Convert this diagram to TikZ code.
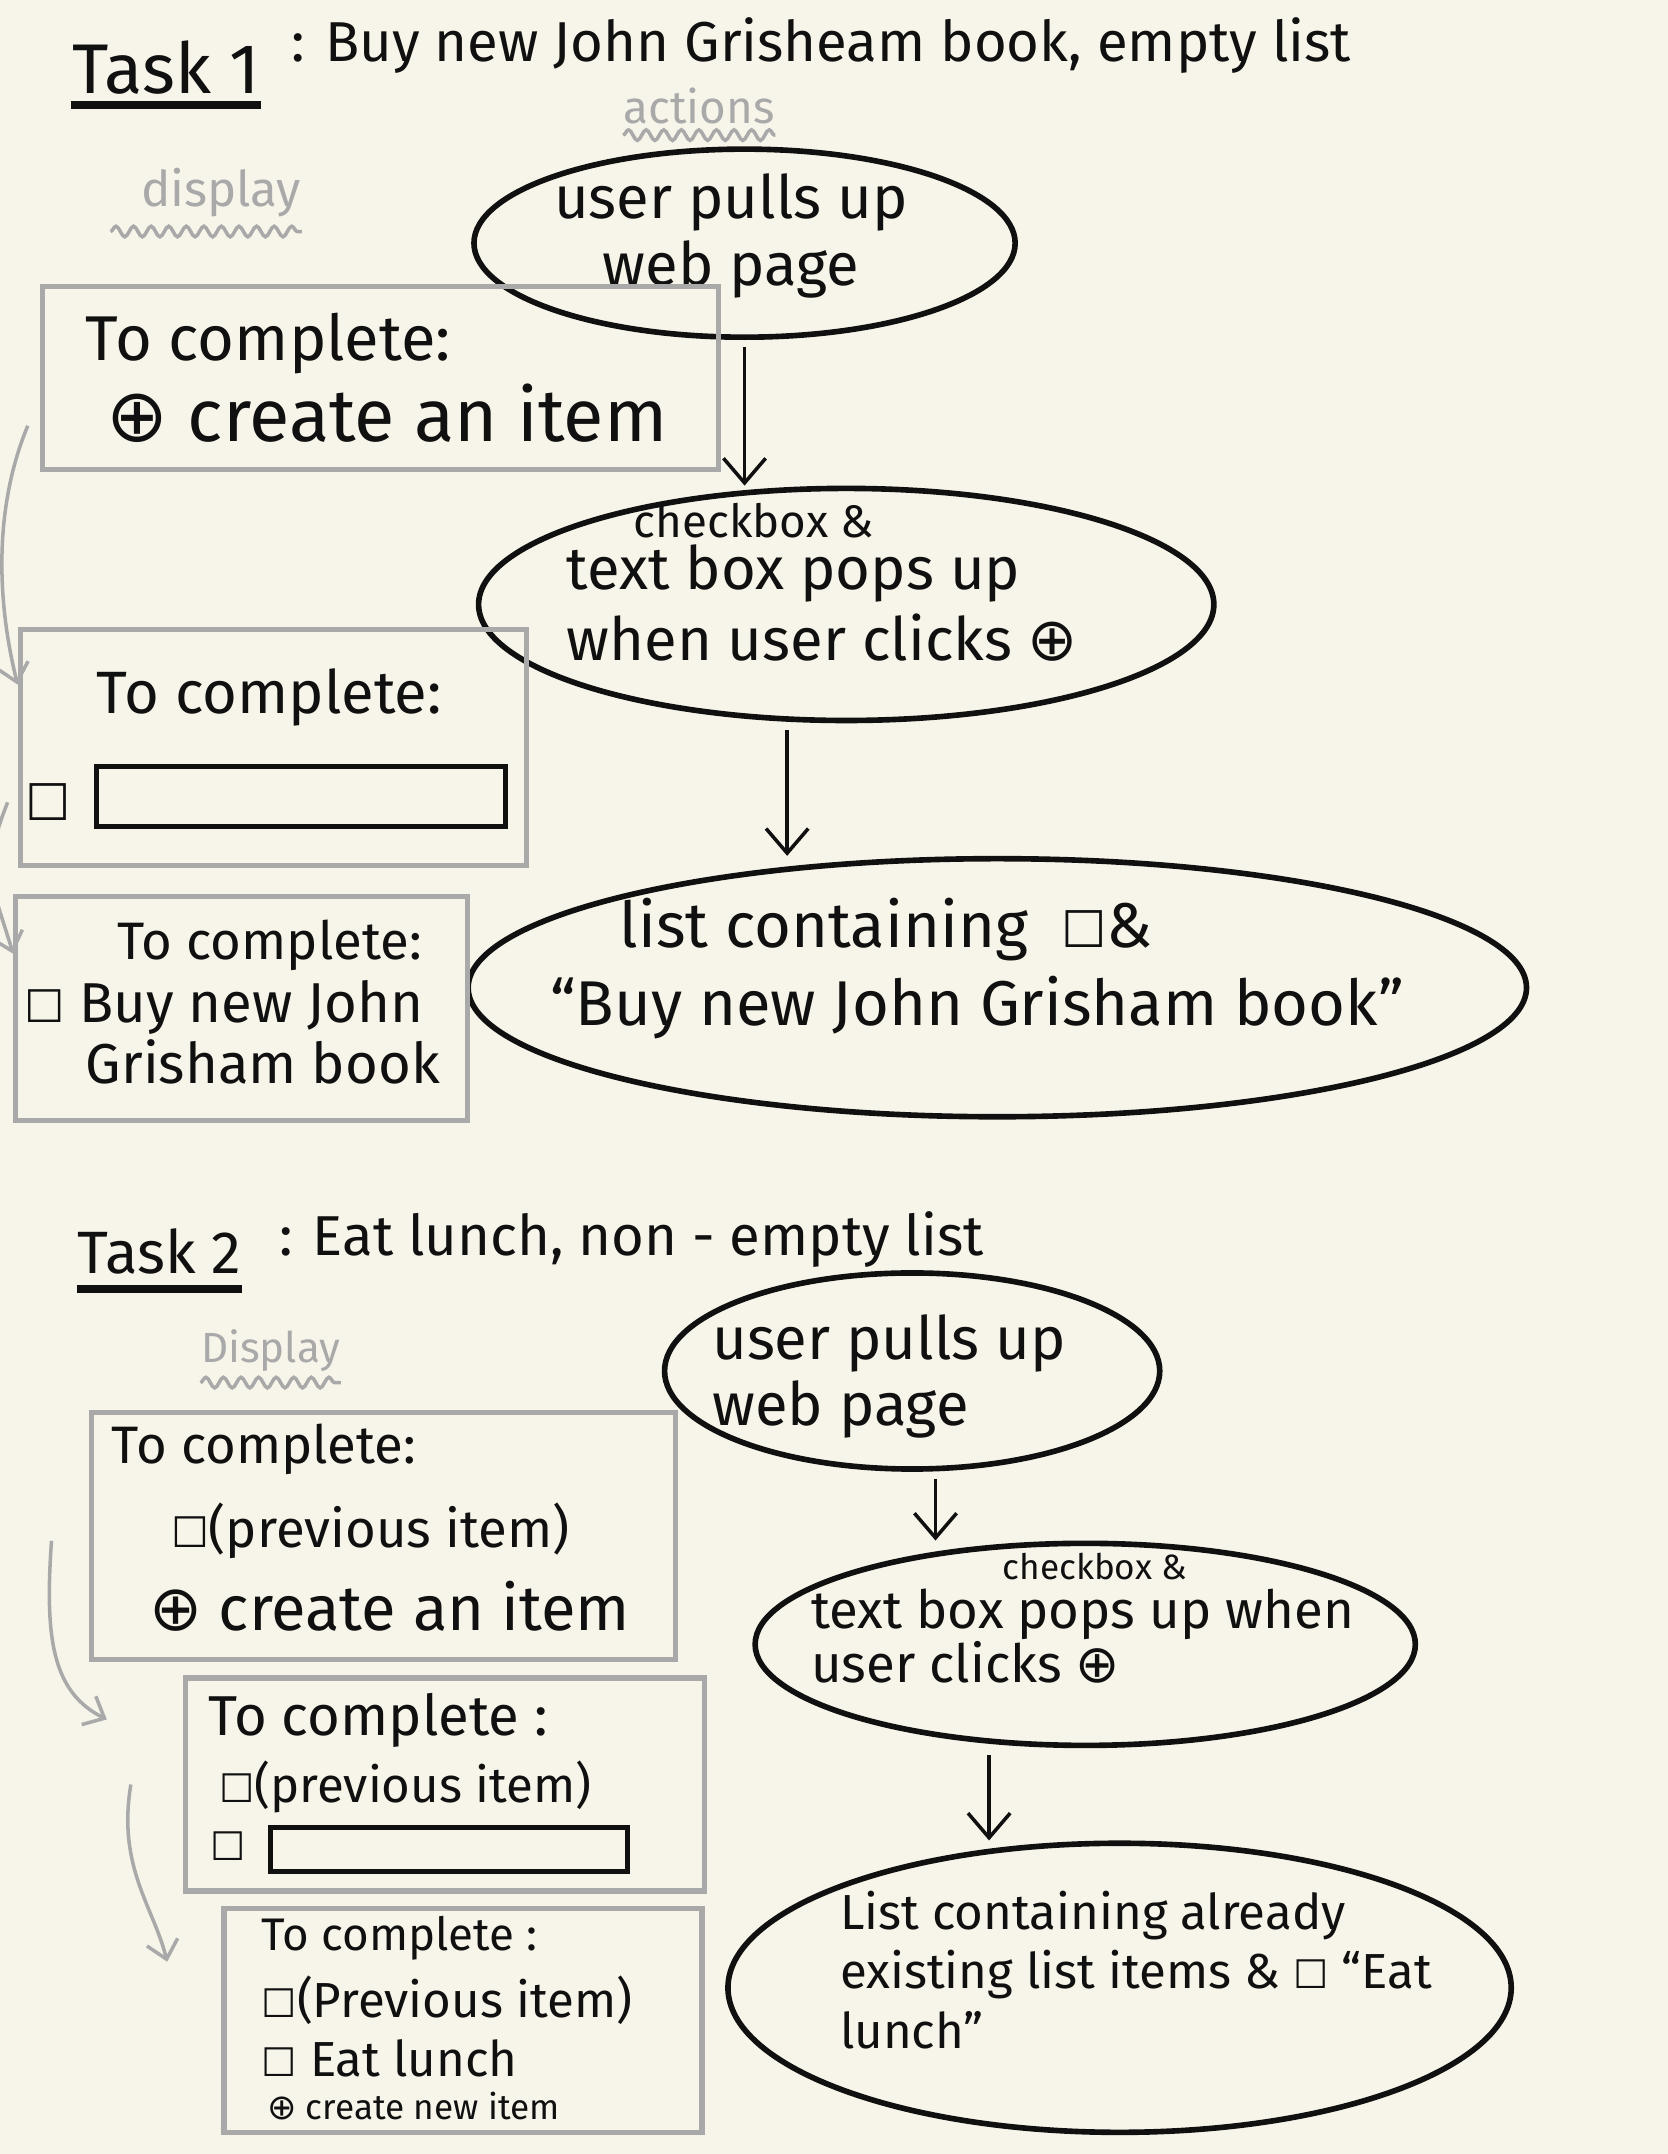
\documentclass[tikz,border=0pt]{standalone}
\usepackage{fontspec}
\setmainfont{Fira Sans}
\newfontfamily\symfont{DejaVu Sans}
\usepackage{graphicx}
\usepackage{xcolor}
\definecolor{paper}{HTML}{F7F5EA}
\definecolor{ink}{HTML}{101010}
\definecolor{pencil}{HTML}{A9A9A9}
\usetikzlibrary{arrows.meta,decorations.pathmorphing,shapes.geometric,positioning,calc}
\newcommand{\hw}[1]{\fontsize{#1}{#1}\selectfont}
\newcommand{\tickbox}{{\symfont\scalebox{0.8}{☐}}}
\newcommand{\addbtn}{{\symfont ⊕}}

\begin{document}
\begin{tikzpicture}[x=0.01374cm, y=-0.01374cm,
    oval/.style={draw=ink, line width=1.6pt, ellipse, inner sep=0pt},
    screen/.style={draw=pencil, line width=1.5pt, rectangle, inner sep=0pt},
    field/.style={draw=ink, line width=1.4pt, rectangle, inner sep=0pt},
    say/.style={text=ink, inner sep=0pt, anchor=west},
    hint/.style={text=pencil, inner sep=0pt},
    wavy/.style={draw=pencil, line width=1pt, decorate, decoration={snake, amplitude=1.5pt, segment length=5pt}},
    act/.style={draw=ink, line width=1pt, shorten <=2pt, -{Straight Barb[length=7pt,width=12pt]}},
    flow/.style={draw=pencil, line width=1pt, -{Straight Barb[length=5pt,width=9pt]}},
  ]

  % paper
  \fill[paper] (0,0) rectangle (1214,1568);
  \useasboundingbox (0,0) rectangle (1214,1568);

  % ---------------- Task 1 ----------------
  \node[say, font=\hw{20}] (t1) at (52,49) {Task 1};
  \draw[ink, line width=2.2pt] ([yshift=-3pt]t1.south west) -- ([yshift=-3pt]t1.south east);
  \node[say, font=\hw{16}] (t1s) at (212,33) {: Buy new John Grisheam book, empty list};

  \node[hint, font=\hw{13}] (act1) at (509,77) {actions};
  \draw[wavy] ([yshift=-3pt]act1.south west) -- ([yshift=-3pt]act1.south east);
  \node[hint, font=\hw{14}] (dsp1) at (161,140) {display};
  \draw[wavy] ([xshift=-0.3cm,yshift=-4pt]dsp1.south west) -- ([yshift=-4pt]dsp1.south east);

  % actions
  \node[oval, minimum width=5.41cm, minimum height=1.88cm] (E1) at (542,177) {};
  \node[text=ink, inner sep=0pt, align=center, font=\fontsize{17}{19}\selectfont] (E1t) at (532,172) {user pulls up\\web page};

  \node[oval, minimum width=7.35cm, minimum height=2.32cm] (E2) at (616,440) {};
  \node[say, font=\hw{13}] (E2n) at (461,379) {checkbox \&};
  \node[say, align=left, font=\fontsize{17}{20}\selectfont] (E2t) at (412,439) {text box pops up\\when user clicks \addbtn};

  \node[oval, minimum width=10.58cm, minimum height=2.58cm] (E3) at (726,719) {};
  \node[say, align=left, font=\fontsize{18}{22}\selectfont] (E3t) at (400,705) {\hspace{1.1em}list containing \ \tickbox\&\\“Buy new John Grisham book”};

  \draw[act] (E1.south) -- (E1.south |- E2.north);
  \draw[act] ($(E2.south)+(-43,0)$) -- ($(E2.south |- E3.north)+(-43,0)$);

  % display
  \node[screen, minimum width=6.76cm, minimum height=1.83cm] (B1) at (277,275) {};
  \node[say, font=\hw{18}] (B1a) at (62,250) {To complete:};
  \node[say, font=\hw{21}] (B1b) at (77,301) {\addbtn\ create an item};

  \node[screen, minimum width=5.06cm, minimum height=2.36cm] (B2) at (199,544) {};
  \node[say, font=\hw{17}] (B2a) at (70,508) {To complete:};
  \node[text=ink, inner sep=0pt, font=\hw{18}] (B2c) at (35,584) {\tickbox};
  \node[field, minimum width=4.09cm, minimum height=0.6cm] (B2f) at (219,580) {};

  \node[screen, minimum width=4.52cm, minimum height=2.24cm] (B3) at (176,734) {};
  \node[say, font=\hw{15}] (B3a) at (85,688) {To complete:};
  \node[say, font=\hw{16}] (B3b) at (17,733) {\tickbox\ Buy new John};
  \node[say, font=\hw{16}] (B3c) at (62,773) {Grisham book};

  \draw[flow] ([xshift=-0.12cm,yshift=-0.48cm]B1.west) .. controls +(-25,60) and +(-15,-60) .. ([yshift=-0.58cm]B2.north west);
  \draw[flow] ([xshift=-0.1cm,yshift=-0.55cm]B2.west) .. controls +(-20,50) and +(-15,-50) .. ([yshift=-0.6cm]B3.north west);

  % ---------------- Task 2 ----------------
  \node[say, font=\hw{17}] (t2) at (56,911) {Task 2};
  \draw[ink, line width=2.2pt] ([yshift=-4pt]t2.south west) -- ([yshift=-4pt]t2.south east);
  \node[say, font=\hw{16}] (t2s) at (203,902) {: Eat lunch, non - empty list};

  \node[hint, font=\hw{12}] (dsp2) at (197,983) {Display};
  \draw[wavy] ([yshift=-3pt]dsp2.south west) -- ([yshift=-3pt]dsp2.south east);

  % actions
  \node[oval, minimum width=4.95cm, minimum height=1.96cm] (E4) at (664,998) {};
  \node[say, align=left, font=\fontsize{17}{19}\selectfont] (E4t) at (518,1002) {user pulls up\\web page};

  \node[oval, minimum width=6.6cm, minimum height=2.02cm] (E5) at (790,1197) {};
  \node[text=ink, inner sep=0pt, font=\hw{10}] (E5n) at (797,1140) {checkbox \&};
  \node[say, align=left, font=\fontsize{15}{15.5}\selectfont] (E5t) at (590,1191) {text box pops up when\\user clicks \addbtn};

  \node[oval, minimum width=7.83cm, minimum height=2.89cm] (E6) at (815,1447) {};
  \node[say, align=left, font=\fontsize{14}{17}\selectfont] (E6t) at (611,1434) {List containing already\\existing list items \& \tickbox\ “Eat\\lunch”};

  \draw[act] ($(E4.south)+(17,0)$) -- ($(E4.south |- E5.north)+(17,0)$);
  \draw[act] ($(E5.south)+(-70,0)$) -- ($(E5.south |- E6.north)+(-70,0)$);

  % display
  \node[screen, minimum width=5.84cm, minimum height=2.47cm] (B4) at (279,1118) {};
  \node[say, font=\hw{15}] (B4a) at (81,1055) {To complete:};
  \node[say, font=\hw{15}] (B4b) at (124,1114) {\tickbox (previous item)};
  \node[say, font=\hw{18}] (B4c) at (108,1169) {\addbtn\ create an item};

  \node[screen, minimum width=5.19cm, minimum height=2.13cm] (B5) at (324,1299) {};
  \node[say, font=\hw{16}] (B5a) at (151,1252) {To complete :};
  \node[say, font=\hw{14}] (B5b) at (159,1301) {\tickbox(previous item)};
  \node[text=ink, inner sep=0pt, font=\hw{14}] (B5c) at (166,1344) {\tickbox};
  \node[field, minimum width=3.57cm, minimum height=0.44cm] (B5f) at (327,1346) {};

  \node[screen, minimum width=4.78cm, minimum height=2.24cm] (B6) at (337,1471) {};
  \node[say, font=\hw{13}] (B6a) at (190,1411) {To complete :};
  \node[say, font=\hw{14}] (B6b) at (190,1456) {\tickbox(Previous item)};
  \node[say, font=\hw{14}] (B6c) at (190,1498) {\tickbox\ Eat lunch};
  \node[say, font=\hw{10}] (B6d) at (194,1533) {\addbtn\ create new item};

  \draw[flow] ([xshift=-0.37cm,yshift=-0.05cm]B4.west) .. controls +(-5,70) and +(-40,-20) .. ([xshift=-0.76cm,yshift=0.65cm]B5.west);
  \draw[flow] ([xshift=-0.52cm]B5.west) .. controls +(-10,60) and +(-10,-40) .. ([xshift=-0.54cm,yshift=0.59cm]B6.west);

\end{tikzpicture}
\end{document}
